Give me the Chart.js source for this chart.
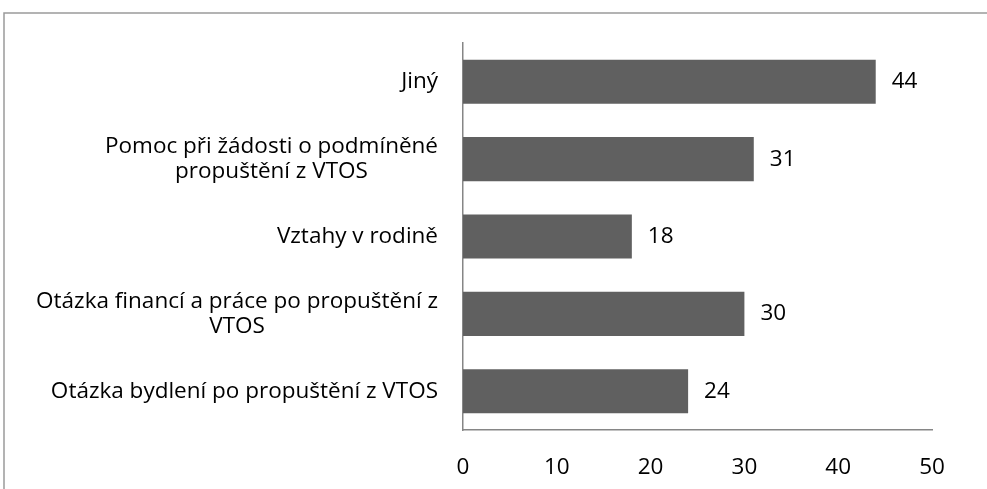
<!DOCTYPE html>
<html>
<head>
<meta charset="utf-8">
<script src="https://cdn.jsdelivr.net/npm/chart.js@4"></script>
<style>
  html, body { margin: 0; padding: 0; background: #fff; }
  #wrap { width: 987px; height: 489px; position: relative; }
</style>
</head>
<body>
<div id="wrap"><canvas id="c"></canvas></div>
<script>
const categories = [
  "Jiný",
  ["Pomoc při žádosti o podmíněné", "propuštění z VTOS"],
  "Vztahy v rodině",
  ["Otázka financí a práce po propuštění z", "VTOS"],
  "Otázka bydlení po propuštění z VTOS"
];
const values = [44, 31, 18, 30, 24];
const xTicks = [0, 10, 20, 30, 40, 50];

const FONT_FAMILY = "'Open Sans', 'Noto Sans', sans-serif";
const FONT_SIZE = 22.5;
const LINE_H = 25;

const framePlugin = {
  id: 'frame',
  beforeDraw(chart) {
    const ctx = chart.ctx;
    ctx.save();
    ctx.fillStyle = '#fff';
    ctx.fillRect(0, 0, chart.width, chart.height);
    ctx.strokeStyle = '#9a9a9a';
    ctx.lineWidth = 1.5;
    ctx.beginPath();
    ctx.moveTo(chart.width + 5, 13);
    ctx.lineTo(4, 13);
    ctx.lineTo(4, chart.height + 5);
    ctx.stroke();
    ctx.restore();
  }
};

const yLabelPlugin = {
  id: 'yLabels',
  afterDraw(chart) {
    const ctx = chart.ctx;
    const ys = chart.scales.y;
    ctx.save();
    ctx.font = FONT_SIZE + 'px ' + FONT_FAMILY;
    ctx.fillStyle = '#000';
    ctx.textAlign = 'center';
    ctx.textBaseline = 'middle';
    categories.forEach((lab, i) => {
      const lines = Array.isArray(lab) ? lab : [lab];
      const w = Math.max(...lines.map(l => ctx.measureText(l).width));
      const cx = ys.right - 25 - w / 2;
      const py = ys.getPixelForTick(i);
      lines.forEach((l, j) => {
        ctx.fillText(l, cx, py + (j - (lines.length - 1) / 2) * LINE_H);
      });
    });
    ctx.restore();
  }
};

const valueLabelPlugin = {
  id: 'valueLabels',
  afterDatasetsDraw(chart) {
    const ctx = chart.ctx;
    const meta = chart.getDatasetMeta(0);
    ctx.save();
    ctx.font = FONT_SIZE + 'px ' + FONT_FAMILY;
    ctx.fillStyle = '#000';
    ctx.textAlign = 'left';
    ctx.textBaseline = 'middle';
    meta.data.forEach((bar, i) => {
      ctx.fillText(String(values[i]), bar.x + 16, bar.y);
    });
    ctx.restore();
  }
};

new Chart(document.getElementById('c'), {
  type: 'bar',
  data: {
    labels: categories,
    datasets: [{
      data: values,
      backgroundColor: '#606060',
      borderWidth: 0,
      barPercentage: 0.57,
      categoryPercentage: 1.0
    }]
  },
  options: {
    indexAxis: 'y',
    responsive: true,
    maintainAspectRatio: false,
    animation: false,
    layout: { padding: { left: 0, top: 43, right: 55, bottom: 0 } },
    plugins: { legend: { display: false }, tooltip: { enabled: false } },
    scales: {
      x: {
        type: 'linear',
        min: 0,
        max: 50,
        afterBuildTicks(scale) { scale.ticks = xTicks.map(v => ({ value: v })); },
        grid: { display: false, drawTicks: false },
        border: { display: true, color: '#868686', width: 1.5 },
        ticks: {
          color: '#000',
          padding: 24,
          font: { family: FONT_FAMILY, size: FONT_SIZE }
        },
        afterFit(scale) { scale.height = 59; }
      },
      y: {
        type: 'category',
        grid: { display: false, drawTicks: false },
        border: { display: true, color: '#868686', width: 1.5 },
        ticks: { display: false },
        afterFit(scale) { scale.width = 463; }
      }
    }
  },
  plugins: [framePlugin, yLabelPlugin, valueLabelPlugin]
});
</script>
</body>
</html>
